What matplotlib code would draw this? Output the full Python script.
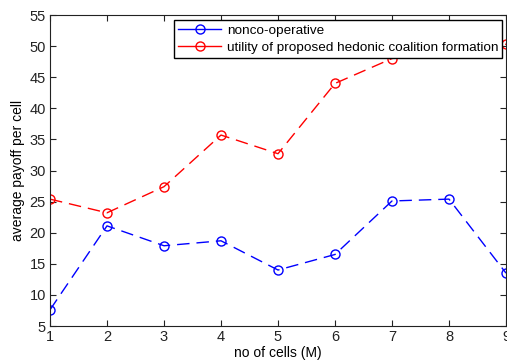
import matplotlib.pyplot as plt

plt.rcParams['font.family'] = ['Liberation Sans', 'DejaVu Sans']

# Data
cells = [1, 2, 3, 4, 5, 6, 7, 8, 9]
nonco = [7.6, 21.1, 17.9, 18.7, 14.0, 16.5, 25.1, 25.4, 13.5]
hedonic = [25.4, 23.2, 27.4, 35.7, 32.7, 44.0, 48.0, 49.5, 50.3]
yticks = [5, 10, 15, 20, 25, 30, 35, 40, 45, 50, 55]

fig = plt.figure(figsize=(5.07, 3.61), dpi=100)
ax = fig.add_axes([50 / 507, 35 / 361, 456 / 507, 311 / 361])

ax.plot(cells, nonco, color='blue', linestyle=(0, (9, 5)), linewidth=1,
        marker='o', markersize=6.5, markerfacecolor='none', markeredgecolor='blue',
        label='nonco-operative')
ax.plot(cells, hedonic, color='red', linestyle=(0, (9, 5)), linewidth=1,
        marker='o', markersize=6.5, markerfacecolor='none', markeredgecolor='red',
        label='utility of proposed hedonic coalition formation')

ax.set_xlim(1, 9)
ax.set_ylim(5, 55)
ax.set_xticks(cells)
ax.set_yticks(yticks)
ax.tick_params(direction='in', top=True, right=True, labelsize=10.5, length=4,
               pad=3, colors='#222222')
for sp in ax.spines.values():
    sp.set_color('#222222')

ax.set_xlabel('no of cells (M)', fontsize=10, labelpad=1)
ax.set_ylabel('average payoff per cell', fontsize=10, labelpad=3)

leg = ax.legend(loc='upper right', bbox_to_anchor=(0.992, 0.983), fontsize=9.7,
                fancybox=False, framealpha=1, edgecolor='black',
                handlelength=3.2, handletextpad=0.4, borderpad=0.3,
                labelspacing=0.35, borderaxespad=0)
leg.get_frame().set_linewidth(1)
for h in leg.get_lines():
    h.set_linestyle('-')

fig.savefig('out.png', dpi=100)
